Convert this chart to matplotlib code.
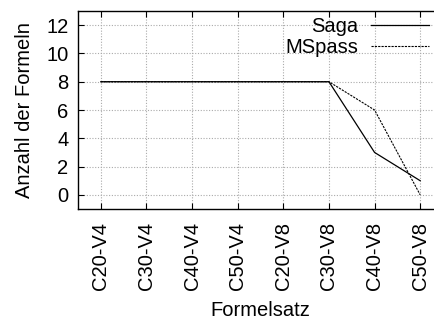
import matplotlib
matplotlib.use("Agg")
import matplotlib.pyplot as plt

categories = ["C20-V4", "C30-V4", "C40-V4", "C50-V4", "C20-V8", "C30-V8", "C40-V8", "C50-V8"]
saga = [8, 8, 8, 8, 8, 8, 3, 1]
mspass = [8, 8, 8, 8, 8, 8, 6, 0]

plt.rcParams['font.family'] = ['Liberation Sans', 'DejaVu Sans']
plt.rcParams['font.size'] = 14.5

fig = plt.figure(figsize=(4.35, 3.2), dpi=100)
ax = fig.add_axes([78 / 435, 1 - 209 / 320, 365 / 435, 198 / 320])

x = range(len(categories))
ax.plot(x, saga, color='black', linewidth=0.9, label='Saga')
ax.plot(x, mspass, color='black', linewidth=0.8, linestyle=(0, (2, 1)), label='MSpass')

ax.set_xlim(-0.5, 7.5)
ax.set_ylim(-1, 13)
ax.set_yticks([0, 2, 4, 6, 8, 10, 12])
ax.set_xticks(list(x))
ax.set_xticklabels(categories, rotation=90)
ax.grid(True, color='#aaaaaa', linestyle=(0, (1, 1.5)), linewidth=0.8)
ax.tick_params(direction='in', top=True, right=True, length=4, width=0.8)
ax.tick_params(axis='x', pad=9)
ax.tick_params(axis='y', pad=7)
for s in ax.spines.values():
    s.set_linewidth(1.0)

ax.set_xlabel("Formelsatz", labelpad=8.5)
ax.set_ylabel("Anzahl der Formeln", labelpad=9)

ax.legend(loc='upper right', frameon=False, markerfirst=False, handlelength=2.9,
          labelspacing=0.1, borderaxespad=0.0, borderpad=0.3, handletextpad=0.6,
          bbox_to_anchor=(0.978, 1.0))

fig.savefig('out.png', dpi=100)
